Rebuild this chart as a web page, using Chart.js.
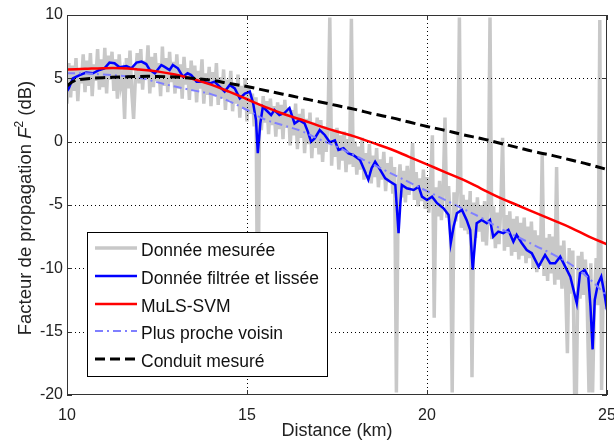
<!DOCTYPE html>
<html>
<head>
<meta charset="utf-8">
<script src="https://cdn.jsdelivr.net/npm/chart.js@4"></script>
<style>
  html, body { margin: 0; padding: 0; background: #fff; }
  #wrap { width: 614px; height: 448px; }
</style>
</head>
<body>
<div id="wrap"><canvas id="propChart"></canvas></div>
<script>
// Distance axis ticks (km) and F^2 ticks (dB)
const xTicks = [10, 15, 20, 25];
const yTicks = [-20, -15, -10, -5, 0, 5, 10];

// Donnée mesurée (raw measurement)
const measuredKm = [
  10.00,10.05,10.10,10.15,10.20,10.25,10.30,10.35,10.40,10.45,10.50,10.55,10.60,10.65,10.70,10.75,10.80,10.85,10.90,10.95,
  11.00,11.05,11.10,11.15,11.20,11.25,11.30,11.35,11.40,11.45,11.50,11.55,11.60,11.65,11.70,11.75,11.80,11.85,11.90,11.95,
  12.00,12.05,12.10,12.15,12.20,12.25,12.30,12.35,12.40,12.45,12.50,12.55,12.60,12.65,12.70,12.75,12.80,12.85,12.90,12.95,
  13.00,13.05,13.10,13.15,13.20,13.25,13.30,13.35,13.40,13.45,13.50,13.55,13.60,13.65,13.70,13.75,13.80,13.85,13.90,13.95,
  14.00,14.05,14.10,14.15,14.20,14.25,14.30,14.35,14.40,14.45,14.50,14.55,14.60,14.65,14.70,14.75,14.80,14.85,14.90,14.95,
  15.00,15.05,15.10,15.15,15.20,15.25,15.30,15.35,15.40,15.45,15.50,15.55,15.60,15.65,15.70,15.75,15.80,15.85,15.90,15.95,
  16.00,16.05,16.10,16.15,16.20,16.25,16.30,16.35,16.40,16.45,16.50,16.55,16.60,16.65,16.70,16.75,16.80,16.85,16.90,16.95,
  17.00,17.05,17.10,17.15,17.20,17.25,17.30,17.35,17.40,17.45,17.50,17.55,17.60,17.65,17.70,17.75,17.80,17.85,17.90,17.95,
  18.00,18.05,18.10,18.15,18.20,18.25,18.30,18.35,18.40,18.45,18.50,18.55,18.60,18.65,18.70,18.75,18.80,18.85,18.90,18.95,
  19.00,19.05,19.10,19.15,19.20,19.25,19.30,19.35,19.40,19.45,19.50,19.55,19.60,19.65,19.70,19.75,19.80,19.85,19.90,19.95,
  20.00,20.05,20.10,20.15,20.20,20.25,20.30,20.35,20.40,20.45,20.50,20.55,20.60,20.65,20.70,20.75,20.80,20.85,20.90,20.95,
  21.00,21.05,21.10,21.15,21.20,21.25,21.30,21.35,21.40,21.45,21.50,21.55,21.60,21.65,21.70,21.75,21.80,21.85,21.90,21.95,
  22.00,22.05,22.10,22.15,22.20,22.25,22.30,22.35,22.40,22.45,22.50,22.55,22.60,22.65,22.70,22.75,22.80,22.85,22.90,22.95,
  23.00,23.05,23.10,23.15,23.20,23.25,23.30,23.35,23.40,23.45,23.50,23.55,23.60,23.65,23.70,23.75,23.80,23.85,23.90,23.95,
  24.00,24.05,24.10,24.15,24.20,24.25,24.30,24.35,24.40,24.45,24.50,24.55,24.60,24.65,24.70,24.75,24.80,24.85,24.90,24.95,
  25.00
];
const measuredDb = [
  3.0, 6.2, 3.5, 6.0, 4.0, 6.6, 3.2, 5.8, 4.6, 6.9,   3.9, 6.4, 4.4, 7.0, 3.6, 6.1, 4.8, 7.3, 4.1, 6.5,
  4.3, 7.4, 3.8, 6.8, 4.9, 7.1, 4.0, 6.5, 3.4, 6.9,   4.5, 5.2, 1.8, 6.6, 4.2, 7.2, 3.9, 1.8, 5.0, 7.0,
  4.6, 7.3, 4.1, 6.4, 5.0, 7.6, 3.8, 6.7, 4.3, 7.0,   4.8, 6.2, 3.6, 7.5, 4.4, 6.6, 3.9, 7.1, 4.7, 6.3,
  3.8, 6.9, 4.2, 6.1, 3.4, 6.7, 4.5, 5.8, 3.3, 6.4,   4.0, 6.0, 3.1, 5.6, 4.2, 6.5, 3.0, 5.4, 3.7, 5.9,
  2.8, 5.5, 3.6, 6.2, 2.9, 5.1, 3.4, 5.7, 2.5, 4.9,   3.3, 5.6, 2.4, 4.6, 3.0, 5.3, 1.9, 4.4, 2.6, 5.0,
  1.6, 4.3, 2.2, 3.8, 1.2, 3.5, -17.0, 2.9, 0.9, 3.6, 1.5, 3.2, 0.6, 3.4, 1.3, 2.8, 0.4, 3.1, 1.0, 2.9,
  0.2, 3.3, 1.1, 2.7, -0.3, 2.5, 0.5, 3.0, -0.6, 2.2, 0.3, 2.6, -0.9, 1.8, -0.2, 2.3, -1.3, 1.5, -0.5, 1.9,
  -1.0, 1.7, -1.6, 1.2, -0.8, 1.4, 9.8, -1.9, 0.9, -1.2, 1.1, -2.2, 0.5, -1.5, 0.8, -2.4, 0.2, -1.8, 9.7, -2.0,
  0.0, -2.6, -0.4, -2.2, 0.3, -3.0, -0.9, -2.5, -0.2, -3.3, -1.1, -2.8, -0.5, -3.6, -1.4, -3.0, -0.8, -3.9, -1.7, -3.2,
  -1.2, -4.1, -2.0, -19.8, -3.6, -1.8, -4.4, -2.3, -4.8, -1.9, -4.2, -2.6, -0.1, -4.6, -2.4, -5.1, -2.9, -4.7, -2.2, -5.3,
  -2.8, -5.6, -3.3, 0.5, -13.9, -3.6, -5.9, -3.1, -6.2, -3.8, 1.9, -6.0, -3.5, -6.5, -19.8, -4.0, -6.3, -3.7, 9.8, -6.8,
  -4.2, -7.0, -4.6, -7.3, -3.9, -18.6, -4.8, -7.6, -4.4, -7.1, -5.0, -7.9, -4.7, -8.2, -5.3, 9.8, -7.7, -5.1, -8.4, -5.6,
  -8.1, -5.2, 0.3, -8.6, -5.8, -8.3, -5.5, -9.0, -6.1, -8.7, -5.9, -9.3, -6.4, -9.0, -6.0, -9.6, -6.7, -9.2, -6.3, -10.0,
  -7.0, -10.3, -7.4, -9.8, -1.0, -10.6, -7.6, -11.0, -7.3, -10.4, -7.5, -11.3, -2.0, -10.9, -8.2, -11.6, -7.8, -11.2, -16.7, -8.4,
  -12.0, -8.6, -19.8, -19.8, -9.0, -12.4, -8.7, -12.1, -9.3, -12.8, -19.8, -9.6, -19.8, -12.5, -9.2, -12.9, 9.6, -19.6, -10.0, -13.2,
  -11.0
];

// Donnée filtrée et lissée
const filteredKm = [
  10.0, 10.05, 10.16, 10.35, 10.53, 10.72, 10.9, 11.04, 11.18, 11.32, 11.46, 11.65, 11.79, 11.93, 12.07, 12.2,
  12.3, 12.44, 12.62, 12.7, 12.85, 12.94, 13.08, 13.22, 13.35, 13.45, 13.6, 13.78, 13.97, 14.1, 14.24, 14.38,
  14.52, 14.66, 14.8, 14.94, 15.08, 15.17, 15.25, 15.3, 15.37, 15.44, 15.53, 15.67, 15.76, 15.9, 16.04, 16.18,
  16.32, 16.45, 16.6, 16.69, 16.78, 16.88, 17.02, 17.16, 17.3, 17.44, 17.54, 17.68, 17.82, 17.95, 18.14, 18.28,
  18.37, 18.46, 18.56, 18.7, 18.84, 18.98, 19.12, 19.16, 19.21, 19.26, 19.3, 19.44, 19.63, 19.77, 19.86, 20.0,
  20.14, 20.28, 20.46, 20.6, 20.66, 20.74, 20.83, 20.97, 21.1, 21.2, 21.27, 21.34, 21.38, 21.52, 21.66, 21.75,
  21.84, 21.98, 22.12, 22.26, 22.4, 22.49, 22.63, 22.77, 22.91, 23.1, 23.28, 23.42, 23.56, 23.7, 23.84, 23.98,
  24.07, 24.16, 24.25, 24.38, 24.48, 24.54, 24.6, 24.66, 24.75, 24.84, 24.94, 25.0
];
const filteredDb = [
  4.0, 4.2, 5.0, 5.26, 5.45, 5.4, 5.66, 5.79, 6.24, 6.19, 5.87, 5.97, 5.79, 6.24, 6.32, 6.13,
  5.66, 5.4, 6.05, 5.92, 5.66, 6.05, 5.79, 5.13, 5.4, 5.26, 4.74, 4.74, 4.6, 4.74, 4.34, 3.95,
  4.47, 4.2, 3.42, 3.8, 3.95, 3.05, 1.7, -0.9, 1.44, 2.76, 2.5, 2.1, 2.5, 2.1, 2.26, 2.66,
  1.44, 1.7, 1.44, 0.79, 0.0, 0.26, 0.92, 0.53, -0.05, 0.1, -0.66, -0.52, -0.92, -1.05, -1.45, -2.37,
  -3.0, -2.1, -1.58, -2.23, -2.89, -3.16, -3.42, -5.13, -7.23, -4.87, -3.42, -3.68, -3.81, -3.55, -4.34, -4.6,
  -4.34, -4.86, -5.26, -5.79, -8.0, -6.7, -5.65, -5.39, -6.18, -6.97, -10.1, -7.76, -6.44, -6.18, -6.44, -6.18,
  -7.5, -7.1, -7.23, -6.97, -7.9, -7.36, -8.0, -8.55, -8.8, -9.87, -8.94, -9.6, -9.6, -9.08, -9.87, -10.65,
  -11.7, -12.76, -10.39, -10.13, -10.65, -13.0, -16.4, -12.5, -11.2, -10.65, -12.2, -13.3
];

// MuLS-SVM, Plus proche voisin, Conduit mesuré
const modelKm = [10, 10.5, 11, 11.5, 12, 12.5, 13, 13.5, 14, 14.5, 15, 15.5, 16, 16.5, 17, 17.5,
  18, 18.5, 19, 19.5, 20, 20.5, 21, 21.5, 22, 22.5, 23, 23.5, 24, 24.5, 25];
const mulsDb = [5.7, 5.75, 5.8, 5.8, 5.7, 5.55, 5.3, 4.95, 4.5, 3.95, 3.35, 2.75, 2.2, 1.75, 1.25, 0.8,
  0.4, -0.1, -0.6, -1.2, -1.8, -2.4, -3.0, -3.7, -4.4, -5.0, -5.6, -6.2, -6.8, -7.5, -8.1];
const voisinDb = [5.4, 5.4, 5.3, 5.2, 5.05, 4.7, 4.35, 4.05, 3.75, 3.2, 2.5, 1.75, 1.3, 0.85, 0.2, -0.4,
  -1.1, -1.8, -2.5, -3.2, -3.9, -4.6, -5.3, -6.0, -6.8, -7.5, -8.2, -8.9, -9.7, -10.8, -12.2];
const conduitKm = [10, 10.2, 10.5, 11, 11.5, 12, 12.5, 13, 13.5, 14, 14.5, 15, 15.5, 16, 16.5, 17, 17.5,
  18, 18.5, 19, 19.5, 20, 20.5, 21, 21.5, 22, 22.5, 23, 23.5, 24, 24.5, 25];
const conduitDb = [4.4, 4.8, 4.95, 5.05, 5.1, 5.15, 5.15, 5.1, 5.0, 4.85, 4.6, 4.35, 4.05, 3.75, 3.45, 3.15, 2.85,
  2.55, 2.2, 1.9, 1.55, 1.2, 0.9, 0.55, 0.25, -0.1, -0.45, -0.8, -1.1, -1.45, -1.8, -2.2];

const pts = (xs, ys) => xs.map((x, i) => ({ x: x, y: ys[i] }));
const FONT = "'Liberation Sans', Arial, sans-serif";

// matlab-like frame, dotted grid, inward ticks, boxed legend, y title with italic F and exponent
const matlabAxes = {
  id: "matlabAxes",
  afterDatasetsDraw(chart) {
    const { ctx, chartArea: a, scales } = chart;
    ctx.save();
    ctx.strokeStyle = "#000";
    ctx.lineWidth = 1;
    ctx.setLineDash([1, 3]);
    xTicks.slice(1, -1).forEach(v => {
      const px = Math.round(scales.x.getPixelForValue(v)) + 0.5;
      ctx.beginPath(); ctx.moveTo(px, a.top); ctx.lineTo(px, a.bottom); ctx.stroke();
    });
    yTicks.slice(1, -1).forEach(v => {
      const py = Math.round(scales.y.getPixelForValue(v)) + 0.5;
      ctx.beginPath(); ctx.moveTo(a.left, py); ctx.lineTo(a.right, py); ctx.stroke();
    });
    ctx.setLineDash([]);
    ctx.strokeStyle = "#333";
    ctx.strokeRect(a.left + 0.5, a.top + 0.5, a.right - a.left - 1, a.bottom - a.top - 1);
    xTicks.forEach(v => {
      const px = Math.round(scales.x.getPixelForValue(v)) + 0.5;
      ctx.beginPath();
      ctx.moveTo(px, a.bottom); ctx.lineTo(px, a.bottom - 5);
      ctx.moveTo(px, a.top); ctx.lineTo(px, a.top + 5);
      ctx.stroke();
    });
    yTicks.forEach(v => {
      const py = Math.round(scales.y.getPixelForValue(v)) + 0.5;
      ctx.beginPath();
      ctx.moveTo(a.left, py); ctx.lineTo(a.left + 5, py);
      ctx.moveTo(a.right, py); ctx.lineTo(a.right - 5, py);
      ctx.stroke();
    });

    // legend box
    const bx = a.left + 20, by = a.bottom - 163, bw = 240, bh = 144;
    ctx.fillStyle = "#fff";
    ctx.fillRect(bx, by, bw, bh);
    ctx.strokeStyle = "#000";
    ctx.strokeRect(bx + 0.5, by + 0.5, bw, bh);
    ctx.font = "17.5px " + FONT;
    ctx.textBaseline = "middle";
    ctx.textAlign = "left";
    const rows = [19, 47, 75, 102, 130];
    chart.data.datasets.forEach((ds, i) => {
      const ty = by + rows[i];
      const ly = ty - 3;
      ctx.strokeStyle = ds.borderColor;
      ctx.lineWidth = ds.borderWidth;
      ctx.setLineDash(ds.borderDash || []);
      ctx.beginPath(); ctx.moveTo(bx + 8, ly); ctx.lineTo(bx + 50, ly); ctx.stroke();
      ctx.setLineDash([]);
      ctx.fillStyle = "#111";
      ctx.fillText(ds.label, bx + 54, ty);
    });

    // y axis title
    const parts = [
      { t: "Facteur de propagation ", f: "18.5px " + FONT, dy: 0 },
      { t: "F", f: "italic 18.5px " + FONT, dy: 0 },
      { t: "2", f: "12px " + FONT, dy: -8 },
      { t: " (dB)", f: "18.5px " + FONT, dy: 0 }
    ];
    let total = 0;
    parts.forEach(p => { ctx.font = p.f; p.w = ctx.measureText(p.t).width; total += p.w; });
    ctx.translate(31, (a.top + a.bottom) / 2 + 3);
    ctx.rotate(-Math.PI / 2);
    ctx.fillStyle = "#222";
    ctx.textBaseline = "alphabetic";
    let cx = -total / 2;
    parts.forEach(p => { ctx.font = p.f; ctx.fillText(p.t, cx, p.dy); cx += p.w; });
    ctx.restore();
  }
};

new Chart(document.getElementById("propChart"), {
  type: "line",
  data: {
    datasets: [
      { label: "Donnée mesurée", data: pts(measuredKm, measuredDb), borderColor: "#c8c8c8", borderWidth: 3.5, order: 5 },
      { label: "Donnée filtrée et lissée", data: pts(filteredKm, filteredDb), borderColor: "#0000ff", borderWidth: 2.5, order: 4 },
      { label: "MuLS-SVM", data: pts(modelKm, mulsDb), borderColor: "#ff0000", borderWidth: 2.5, tension: 0.4, order: 3 },
      { label: "Plus proche voisin", data: pts(modelKm, voisinDb), borderColor: "#7f7fff", borderWidth: 2, borderDash: [8, 4, 2, 4], tension: 0.4, order: 2 },
      { label: "Conduit mesuré", data: pts(conduitKm, conduitDb), borderColor: "#000", borderWidth: 3, borderDash: [10, 5], tension: 0.4, order: 1 }
    ]
  },
  options: {
    responsive: true,
    maintainAspectRatio: false,
    animation: false,
    layout: { padding: { left: 0, right: 7, top: 15, bottom: 0 } },
    elements: { point: { radius: 0 } },
    plugins: { legend: { display: false }, tooltip: { enabled: false } },
    scales: {
      x: {
        type: "linear", min: 10, max: 25,
        afterBuildTicks: s => { s.ticks = xTicks.map(v => ({ value: v })); },
        afterFit: s => { s.height = 53; s.paddingLeft = 0; s.paddingRight = 0; },
        grid: { display: false, drawTicks: false },
        border: { display: false },
        ticks: { padding: 11, color: "#222", font: { family: FONT, size: 16 } },
        title: { display: true, text: "Distance (km)", color: "#222", padding: { top: 2, bottom: 6 }, font: { family: FONT, size: 18 } }
      },
      y: {
        type: "linear", min: -20, max: 10,
        afterBuildTicks: s => { s.ticks = yTicks.map(v => ({ value: v })); },
        afterFit: s => { s.width = 67; s.paddingTop = 0; s.paddingBottom = 0; },
        grid: { display: false, drawTicks: false },
        border: { display: false },
        ticks: { padding: 4, color: "#222", font: { family: FONT, size: 16 } },
        title: { display: false }
      }
    }
  },
  plugins: [matlabAxes]
});
</script>
</body>
</html>
